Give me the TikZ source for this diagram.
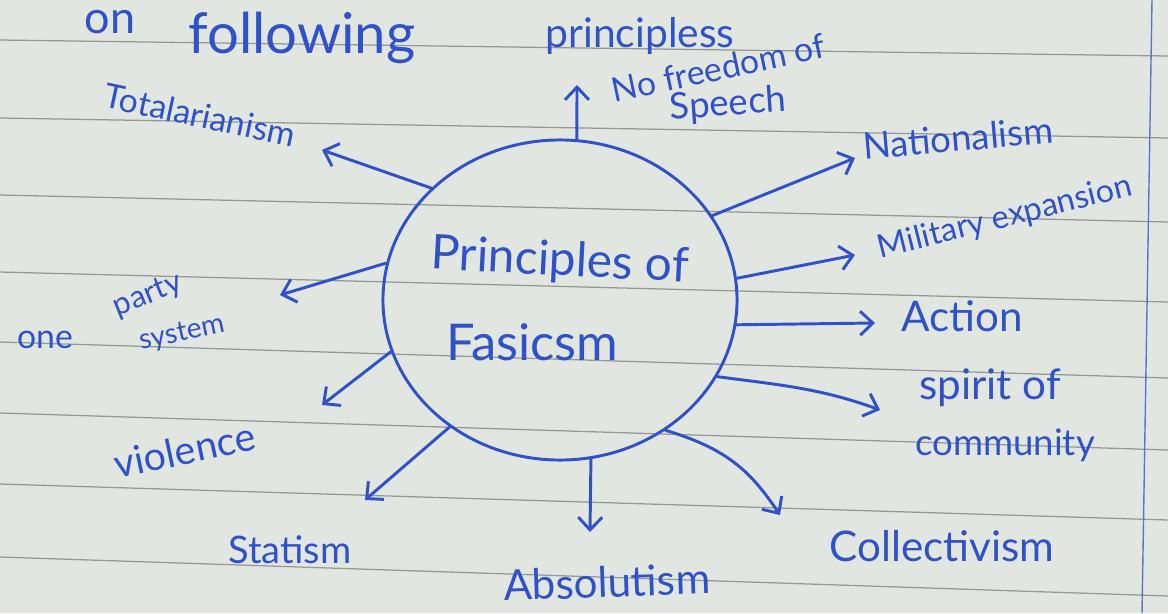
\documentclass[tikz,border=0pt]{standalone}
\usepackage{fontspec}
\setmainfont{Lato}
\usetikzlibrary{shapes.geometric,arrows.meta}
\definecolor{inkblue}{RGB}{48,82,200}
\definecolor{paper}{RGB}{226,230,225}
\definecolor{rulegray}{RGB}{150,152,150}

\begin{document}
\begin{tikzpicture}[
    x=0.025cm, y=-0.025cm,
    hand/.style={text=inkblue, inner sep=1pt, font=\fontsize{#1}{#1}\selectfont},
    pen/.style={draw=inkblue, line width=2.1pt, line cap=round, line join=round,
        -{Straight Barb[length=9pt, width=17pt, line width=2.1pt]}},
    ruled/.style={draw=rulegray, line width=0.9pt}
]
\useasboundingbox[fill=paper] (0,0) rectangle (1168,613);

% Ruled paper
\foreach \yl/\yr in {40/56, 118/138, 195/222, 272/302, 342/378, 413/450, 484/520, 557/596}
    \draw[ruled] (0,\yl) -- (1168,\yr);
\draw[draw=inkblue!80, line width=1pt] (1152,0) -- (1142,613);

% Heading
\node[hand=32] (on) at (110,22) {on};
\node[hand=40] (follow) at (302,38) {following};
\node[hand=29] (princ) at (640,36) {principless};

% Central bubble
\node[ellipse, draw=inkblue, line width=2.1pt, inner sep=0pt,
      minimum width=8.85cm, minimum height=8cm] (fasc) at (560,300) {};
\node[hand=34, rotate=-3] (ptitle) at (560,262) {Principles of};
\node[hand=36] (ftitle) at (532,342) {Fasicsm};

% Tips of the arrows
\coordinate (ttotal) at (322,150);
\coordinate (tspeech) at (577,85);
\coordinate (tnation) at (855,158);
\coordinate (tmilit) at (855,255);
\coordinate (taction) at (875,323);
\coordinate (tspirit) at (880,410);
\coordinate (tcollect) at (780,515);
\coordinate (tabsol) at (590,532);
\coordinate (tstat) at (365,500);
\coordinate (tviol) at (322,405);
\coordinate (tparty) at (280,295);

% Labels
\node[hand=24, rotate=-12] (total) at (200,115) {Totalarianism};
\node[hand=24, rotate=12] (nofree) at (718,68) {No freedom of};
\node[hand=26, rotate=4] (speech) at (728,105) {Speech};
\node[hand=26, rotate=5] (nation) at (958,138) {Nationalism};
\node[hand=23, rotate=14] (milit) at (1005,218) {Military expansion};
\node[hand=30] (action) at (962,316) {Action};
\node[hand=30] (spirit) at (990,388) {spirit of};
\node[hand=26] (commun) at (1005,445) {community};
\node[hand=30] (collect) at (942,546) {Collectivism};
\node[hand=30, rotate=2] (absol) at (607,582) {Absolutism};
\node[hand=27] (stat) at (290,550) {Statism};
\node[hand=28, rotate=12] (viol) at (185,450) {violence};
\node[hand=24] (one) at (45,340) {one};
\node[hand=22, rotate=22] (party) at (148,296) {party};
\node[hand=20, rotate=12] (system) at (182,334) {system};

% Arrows out of the bubble
\draw[pen] (fasc.139) -- (ttotal);
\draw[pen] (fasc.84) -- (tspeech);
\draw[pen] (fasc.29) -- (tnation);
\draw[pen] (fasc.7) -- (tmilit);
\draw[pen] (fasc.-8.5) -- (taction);
\draw[pen] (fasc.-26) .. controls +(60,8) and +(-60,-22) .. (tspirit);
\draw[pen] (fasc.-51) .. controls +(60,18) and +(-30,-45) .. (tcollect);
\draw[pen] (fasc.-79) -- (tabsol);
\draw[pen] (fasc.-131) -- (tstat);
\draw[pen] (fasc.-163) -- (tviol);
\draw[pen] (fasc.168) -- (tparty);

\end{tikzpicture}
\end{document}
